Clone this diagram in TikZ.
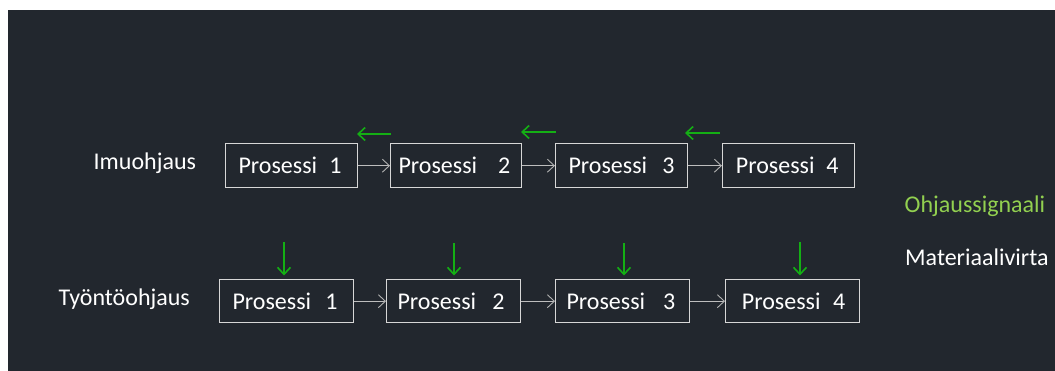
\documentclass[tikz,border=0pt]{standalone}
\usepackage{fontspec}
\setmainfont{Carlito}
\usetikzlibrary{arrows.meta}
\definecolor{panel}{RGB}{34,39,46}
\definecolor{boxline}{RGB}{215,215,215}
\definecolor{flowline}{RGB}{190,190,190}
\definecolor{signal}{RGB}{20,175,20}
\definecolor{legendgreen}{RGB}{146,208,80}
\tikzset{
  procbox/.style={draw=boxline, line width=1.4pt, inner sep=0pt, anchor=north west,
    text=white, font=\fontsize{24}{28}\selectfont, minimum height=44pt},
  flow/.style={draw=flowline, line width=1.3pt,
    -{Straight Barb[length=7pt,width=13pt,line width=0.9pt,color=flowline!80!gray]}},
  sig/.style={draw=signal, line width=2pt,
    -{Straight Barb[length=7pt,width=13pt,line width=1.6pt]}},
  caption/.style={anchor=base west, inner sep=0pt, text=white,
    font=\fontsize{24}{28}\selectfont}
}
% box text: #1 = box width, #2 = left indent, #3 = gap before the number, #4 = number
\newcommand{\proctext}[4]{\makebox[#1pt][l]{\hspace*{#2pt}Prosessi\hspace*{#3pt}#4}}
\begin{document}
\begin{tikzpicture}[x=1pt,y=-1pt]
\useasboundingbox (0,0) rectangle (1055,371);
\fill[white] (0,0) rectangle (1055,371);
\fill[panel] (8,10) rectangle (1055,371);

% pull control row
\node[procbox, minimum width=132pt] (p1) at (225,143) {\proctext{132}{12.8}{12.2}{1}};
\node[procbox, minimum width=131pt] (p2) at (390,143) {\proctext{131}{7.8}{20.9}{2}};
\node[procbox, minimum width=132pt] (p3) at (555,143) {\proctext{132}{12.8}{15.2}{3}};
\node[procbox, minimum width=132pt] (p4) at (722,143) {\proctext{132}{13.2}{11.8}{4}};

\draw[flow] (p1.east) -- (p2.west);
\draw[flow] (p2.east) -- (p3.west);
\draw[flow] (p3.east) -- (p4.west);

\coordinate (u1s) at (391,134); \coordinate (u1e) at (357,134);
\coordinate (u2s) at (556,132); \coordinate (u2e) at (521,132);
\coordinate (u3s) at (720,133); \coordinate (u3e) at (685,133);
\draw[sig] (u1s) -- (u1e);
\draw[sig] (u2s) -- (u2e);
\draw[sig] (u3s) -- (u3e);

% push control row
\node[procbox, minimum width=134pt, minimum height=43pt] (q1) at (219,279) {\proctext{134}{12.8}{14.2}{1}};
\node[procbox, minimum width=134pt, minimum height=43pt] (q2) at (386,279) {\proctext{134}{10.8}{16.2}{2}};
\node[procbox, minimum width=134pt, minimum height=43pt] (q3) at (555,279) {\proctext{134}{10.8}{17.9}{3}};
\node[procbox, minimum width=134pt, minimum height=43pt] (q4) at (725,279) {\proctext{134}{16.2}{12.5}{4}};

\draw[flow] (q1.east) -- (q2.west);
\draw[flow] (q2.east) -- (q3.west);
\draw[flow] (q3.east) -- (q4.west);

\coordinate (d1s) at (284,242); \coordinate (d1e) at (284,275.5);
\coordinate (d2s) at (454,243); \coordinate (d2e) at (454,275.5);
\coordinate (d3s) at (624,243); \coordinate (d3e) at (624,275.5);
\coordinate (d4s) at (800,242); \coordinate (d4e) at (800,275.5);
\draw[sig] (d1s) -- (d1e);
\draw[sig] (d2s) -- (d2e);
\draw[sig] (d3s) -- (d3e);
\draw[sig] (d4s) -- (d4e);

% row titles and legend
\node[caption] (imu) at (93.5,169.5) {Imuohjaus};
\node[caption] (tyo) at (58.5,305.5) {Työntöohjaus};
\node[caption, text=legendgreen] (ohj) at (904.5,212.5) {Ohjaussignaali};
\node[caption] (mat) at (905,266) {Materiaalivirta};
\end{tikzpicture}
\end{document}
